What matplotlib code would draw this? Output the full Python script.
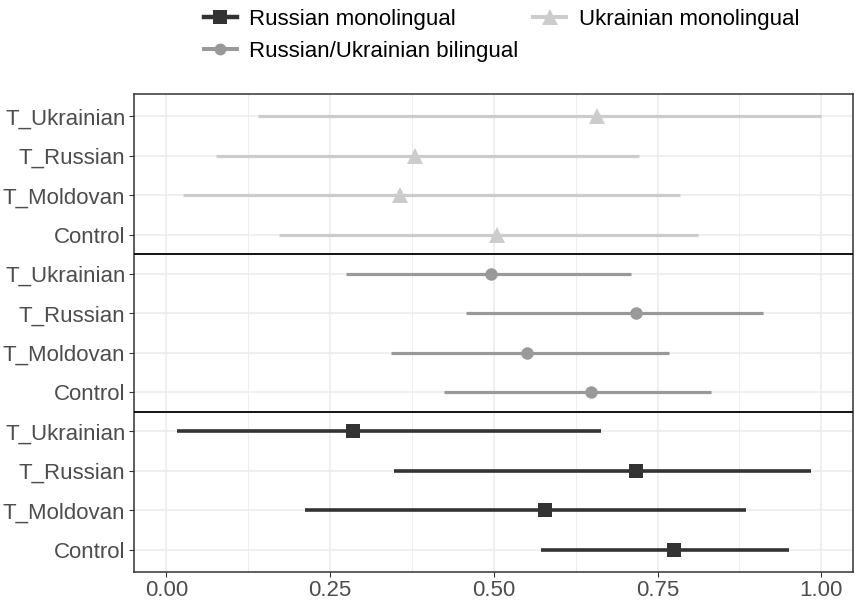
import matplotlib
matplotlib.use("Agg")
import matplotlib.pyplot as plt
from matplotlib.lines import Line2D

plt.rcParams["font.family"] = ["Liberation Sans", "DejaVu Sans"]

conditions = ["T_Ukrainian", "T_Russian", "T_Moldovan", "Control"]
groups = ["Ukrainian monolingual", "Russian/Ukrainian bilingual", "Russian monolingual"]

est_ukr = [0.657, 0.379, 0.356, 0.505]
lo_ukr = [0.140, 0.075, 0.026, 0.172]
hi_ukr = [0.999, 0.722, 0.784, 0.811]

est_bil = [0.495, 0.717, 0.550, 0.649]
lo_bil = [0.274, 0.457, 0.343, 0.424]
hi_bil = [0.710, 0.911, 0.767, 0.831]

est_rus = [0.285, 0.717, 0.578, 0.775]
lo_rus = [0.016, 0.348, 0.211, 0.572]
hi_rus = [0.663, 0.985, 0.885, 0.950]

x_ticks = [0.00, 0.25, 0.50, 0.75, 1.00]
x_ticklabels = ["0.00", "0.25", "0.50", "0.75", "1.00"]

styles = {
    "Ukrainian monolingual": dict(color="#cccccc", marker="^", ms=11.5, lw=2.3),
    "Russian/Ukrainian bilingual": dict(color="#999999", marker="o", ms=9.0, lw=2.3),
    "Russian monolingual": dict(color="#333333", marker="s", ms=10.0, lw=2.6),
}

series = {
    "Ukrainian monolingual": (est_ukr, lo_ukr, hi_ukr),
    "Russian/Ukrainian bilingual": (est_bil, lo_bil, hi_bil),
    "Russian monolingual": (est_rus, lo_rus, hi_rus),
}

fig = plt.figure(figsize=(8.55, 6.05), dpi=100)
ax = fig.add_axes([0.1564, 0.0545, 0.8409, 0.7901])

n_cond = len(conditions)
ytick_pos = []
ytick_lab = []
for gi, g in enumerate(groups):
    est, lo, hi = series[g]
    st = styles[g]
    top = len(groups) * n_cond - gi * n_cond
    for ci in range(n_cond):
        y = top - ci
        ytick_pos.append(y)
        ytick_lab.append(conditions[ci])
        ax.plot([lo[ci], hi[ci]], [y, y], color=st["color"], lw=st["lw"],
                solid_capstyle="butt", zorder=3)
        ax.plot(est[ci], y, marker=st["marker"], color=st["color"],
                ms=st["ms"], mew=0, zorder=4, linestyle="none")

# group separators
for yb in [n_cond + 0.5, 2 * n_cond + 0.5]:
    ax.axhline(yb, color="black", lw=1.3, zorder=5)

ax.set_xlim(-0.050, 1.048)
ax.set_ylim(1 - 0.57, len(groups) * n_cond + 0.57)
ax.set_xticks(x_ticks)
ax.set_xticklabels(x_ticklabels)
ax.set_xticks([0.125, 0.375, 0.625, 0.875], minor=True)
ax.set_yticks(ytick_pos)
ax.set_yticklabels(ytick_lab)

ax.grid(True, which="major", color="#ebebeb", lw=1.1, zorder=0)
ax.grid(True, which="minor", axis="x", color="#ebebeb", lw=0.6, zorder=0)
ax.set_axisbelow(True)
ax.tick_params(which="minor", length=0)
ax.tick_params(which="major", length=3.5, width=0.8, color="#333333",
               labelsize=16, labelcolor="#4d4d4d", pad=2.5)
for s in ax.spines.values():
    s.set_color("#333333")
    s.set_linewidth(1.1)

handles = []
for g in ["Russian monolingual", "Russian/Ukrainian bilingual", "Ukrainian monolingual"]:
    st = styles[g]
    handles.append(Line2D([0], [0], color=st["color"], lw=st["lw"] + 0.6,
                          marker=st["marker"], ms=st["ms"] * 0.95, mew=0,
                          label=g))
fig.legend(handles=handles, loc="upper left", bbox_to_anchor=(0.228, 1.0),
           ncol=2, frameon=False, fontsize=16, handlelength=1.5,
           handletextpad=0.55, columnspacing=0.65, labelspacing=0.5,
           borderaxespad=0)

fig.savefig("out.png", dpi=100)
